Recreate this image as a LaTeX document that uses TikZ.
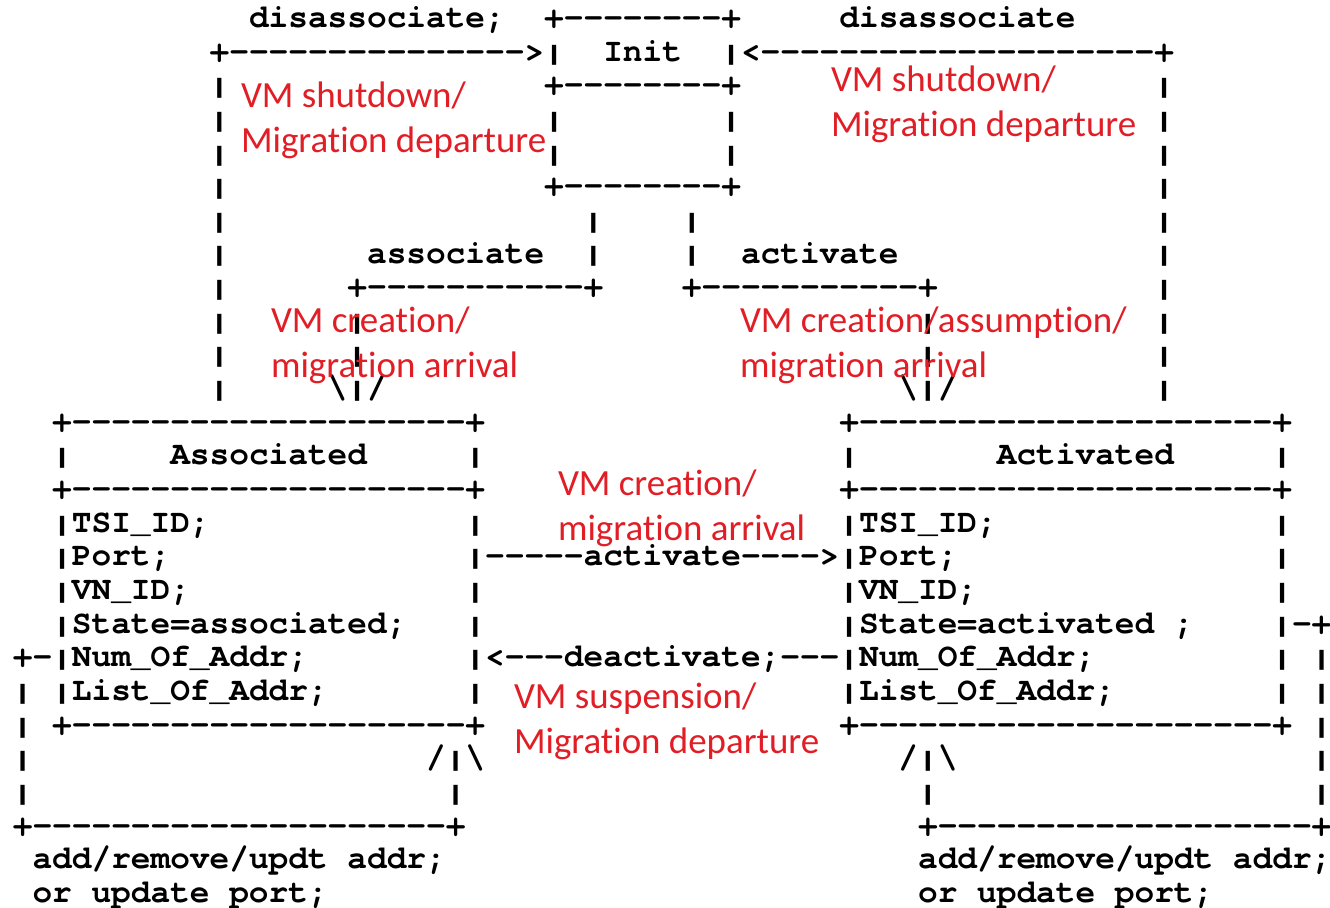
\documentclass[tikz,border=0pt]{standalone}
\usepackage{fontspec}
\usepackage{graphicx}
\setmonofont{TeX Gyre Cursor}
\newfontfamily\labelfont{Carlito}[Ligatures=NoCommon]
\definecolor{annot}{RGB}{225,30,38}
\newcommand\cols[1]{\hspace*{#1\fontcharwd\font32\relax}}
\newcommand\pipe{\makebox[0.6em]{\raisebox{-2.8pt}{\resizebox*{1.3\width}{15pt}{\raisebox{\depth}{|}}}}}

\tikzset{
  ascii/.style={font=\ttfamily\bfseries\fontsize{24.6}{25}\selectfont, anchor=base west, inner sep=0pt, outer sep=0pt},
  note/.style={font=\labelfont\fontsize{27.7}{33.4}\selectfont, text=annot, align=left, anchor=base west, inner sep=0pt, outer sep=0pt}
}

\begin{document}
\begin{tikzpicture}[x=0.75pt, y=-0.75pt]
\fill[white] (0,0) rectangle (1330,907);
\useasboundingbox (0,0) rectangle (1330,907);

\node[ascii] (r0) at (12.85,27.5) {\cols{12}disassociate;\cols{2}+--------+\cols{5}disassociate};
\node[ascii] (r1) at (12.85,61.15) {\cols{10}+--------------->\pipe{}\cols{2}Init\cols{2}\pipe{}<--------------------+};
\node[ascii] (r2) at (12.85,94.8) {\cols{10}\pipe{}\cols{16}+--------+\cols{21}\pipe{}};
\node[ascii] (r3) at (12.85,128.45) {\cols{10}\pipe{}\cols{16}\pipe{}\cols{8}\pipe{}\cols{21}\pipe{}};
\node[ascii] (r4) at (12.85,162.1) {\cols{10}\pipe{}\cols{16}\pipe{}\cols{8}\pipe{}\cols{21}\pipe{}};
\node[ascii] (r5) at (12.85,195.75) {\cols{10}\pipe{}\cols{16}+--------+\cols{21}\pipe{}};
\node[ascii] (r6) at (12.85,229.4) {\cols{10}\pipe{}\cols{18}\pipe{}\cols{4}\pipe{}\cols{23}\pipe{}};
\node[ascii] (r7) at (12.85,263.05) {\cols{10}\pipe{}\cols{7}associate\cols{2}\pipe{}\cols{4}\pipe{}\cols{2}activate\cols{13}\pipe{}};
\node[ascii] (r8) at (12.85,296.7) {\cols{10}\pipe{}\cols{6}+-----------+\cols{4}+-----------+\cols{11}\pipe{}};
\node[ascii] (r9) at (12.85,330.35) {\cols{10}\pipe{}\cols{6}\pipe{}\cols{28}\pipe{}\cols{11}\pipe{}};
\node[ascii] (r10) at (12.85,364.0) {\cols{10}\pipe{}\cols{6}\pipe{}\cols{28}\pipe{}\cols{11}\pipe{}};
\node[ascii] (r11) at (12.85,397.65) {\cols{10}\pipe{}\cols{5}\textbackslash\pipe{}/\cols{26}\textbackslash\pipe{}/\cols{10}\pipe{}};
\node[ascii] (r12) at (12.85,431.3) {\cols{2}+--------------------+\cols{18}+---------------------+};
\node[ascii] (r13) at (12.85,464.95) {\cols{2}\pipe{}\cols{5}Associated\cols{5}\pipe{}\cols{18}\pipe{}\cols{7}Activated\cols{5}\pipe{}};
\node[ascii] (r14) at (12.85,498.6) {\cols{2}+--------------------+\cols{18}+---------------------+};
\node[ascii] (r15) at (12.85,532.25) {\cols{2}\pipe{}TSI\_ID;\cols{13}\pipe{}\cols{18}\pipe{}TSI\_ID;\cols{14}\pipe{}};
\node[ascii] (r16) at (12.85,565.9) {\cols{2}\pipe{}Port;\cols{15}\pipe{}-----activate---->\pipe{}Port;\cols{16}\pipe{}};
\node[ascii] (r17) at (12.85,599.55) {\cols{2}\pipe{}VN\_ID;\cols{14}\pipe{}\cols{18}\pipe{}VN\_ID;\cols{15}\pipe{}};
\node[ascii] (r18) at (12.85,633.2) {\cols{2}\pipe{}State=associated;\cols{3}\pipe{}\cols{18}\pipe{}State=activated\cols{1};\cols{4}\pipe{}-+};
\node[ascii] (r19) at (12.85,666.85) {+-\pipe{}Num\_Of\_Addr;\cols{8}\pipe{}<---deactivate;---\pipe{}Num\_Of\_Addr;\cols{9}\pipe{}\cols{1}\pipe{}};
\node[ascii] (r20) at (12.85,700.5) {\pipe{}\cols{1}\pipe{}List\_Of\_Addr;\cols{7}\pipe{}\cols{18}\pipe{}List\_Of\_Addr;\cols{8}\pipe{}\cols{1}\pipe{}};
\node[ascii] (r21) at (12.85,734.15) {\pipe{}\cols{1}+--------------------+\cols{18}+---------------------+\cols{1}\pipe{}};
\node[ascii] (r22) at (12.85,767.8) {\pipe{}\cols{20}/\pipe{}\textbackslash\cols{21}/\pipe{}\textbackslash\cols{18}\pipe{}};
\node[ascii] (r23) at (12.85,801.45) {\pipe{}\cols{21}\pipe{}\cols{23}\pipe{}\cols{19}\pipe{}};
\node[ascii] (r24) at (12.85,835.1) {+---------------------+\cols{23}+-------------------+};
\node[ascii] (r25) at (12.85,868.75) {\cols{1}add/remove/updt addr;\cols{24}add/remove/updt addr;};
\node[ascii] (r26) at (12.85,902.4) {\cols{1}or update port;\cols{30}or update port;};

\node[note] (leftout) at (241,152) {VM shutdown/\\Migration departure};
\node[note] (rightout) at (831,136) {VM shutdown/\\Migration departure};
\node[note] (associn) at (271,377) {VM creation/\\migration arrival};
\node[note] (activin) at (740,377) {VM creation/assumption/\\migration arrival};
\node[note] (activate) at (558,540) {VM creation/\\migration arrival};
\node[note] (deactivate) at (514,753) {VM suspension/\\Migration departure};
\end{tikzpicture}
\end{document}
